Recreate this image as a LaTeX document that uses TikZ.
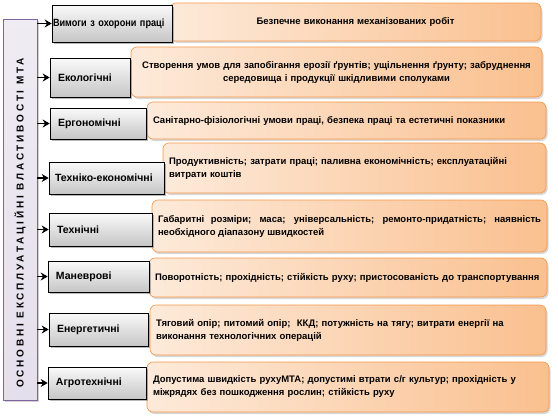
\documentclass[tikz,border=0pt]{standalone}
\usepackage{fontspec}
\setmainfont{Liberation Sans}
\newfontfamily\vuzkyi[FakeStretch=0.87]{Liberation Sans}
\usetikzlibrary{
    shadows,
    arrows.meta
}
\definecolor{pomaranch}{HTML}{F79646}
\definecolor{svitlyi}{HTML}{FDEADA}
\definecolor{temnyi}{HTML}{FAC08F}
\definecolor{fiolet}{HTML}{8064A2}
\definecolor{lavanda}{HTML}{E4DFEC}
\tikzset{
    >=Stealth,
    vlastyvist/.style={
        draw=black,
        line width=0.6pt,
        top color=gray!4,
        bottom color=gray!45,
        drop shadow={shadow xshift=2pt, shadow yshift=-2pt, fill=black!55},
        font=\bfseries\fontsize{10.5}{12}\selectfont,
        align=left,
        inner xsep=8pt,
        inner ysep=0pt
    },
    opys/.style={
        draw=pomaranch,
        line width=0.6pt,
        rounded corners=6pt,
        left color=svitlyi,
        right color=temnyi,
        drop shadow={shadow xshift=1.5pt, shadow yshift=-2pt, fill=black!30},
        font=\bfseries\fontsize{9.5}{13}\selectfont,
        align=left,
        inner xsep=6pt,
        inner ysep=0pt
    },
    strilka/.style={
        ->,
        line width=1.8pt,
        >={Stealth[length=7pt, width=8pt]}
    }
}

\begin{document}
\begin{tikzpicture}[
    x=1pt,
    y=-1pt
]
    \useasboundingbox (0,0) rectangle (558,416);

    % Головна ознака
    \node[draw=fiolet, line width=0.6pt, top color=lavanda!60, bottom color=lavanda,
          drop shadow={shadow xshift=2pt, shadow yshift=-2pt, fill=black!35},
          minimum width=34pt, minimum height=381pt] (prop) at (20,209.5) {};
    \node[rotate=90, inner sep=0pt,
          font=\bfseries\fontsize{10}{11}\selectfont\addfontfeature{LetterSpace=28}]
          (napys) at (20,223) {ОСНОВНІ ЕКСПЛУАТАЦІЙНІ ВЛАСТИВОСТІ МТА};

    % Пояснення
    \node[opys, align=center, text width=359pt, minimum height=38pt] (o1) at (355.5,22)
        {Безпечне виконання механізованих робіт};
    \node[opys, align=center, text width=399pt, minimum height=50pt] (o2) at (336.5,72)
        {Створення умов для запобігання ерозії ґрунтів; ущільнення ґрунту; забруднення\\
         середовища і продукції шкідливими сполуками};
    \node[opys, text width=387pt, minimum height=37pt] (o3) at (346.5,120.5)
        {Санітарно-фізіологічні умови праці, безпека праці та естетичні показники};
    \node[opys, text width=371pt, minimum height=50pt] (o4) at (354.5,168)
        {Продуктивність; затрати праці; паливна економічність; експлуатаційні\\
         витрати коштів};
    \node[opys, align=justify, text width=383pt, minimum height=52pt] (o5) at (349.5,226)
        {Габаритні розміри; маса; універсальність; ремонто-придатність; наявність\linebreak
         необхідного діапазону швидкостей};
    \node[opys, text width=386pt, minimum height=39pt] (o6) at (348,277.5)
        {Поворотність; прохідність; стійкість руху; пристосованість до транспортування};
    \node[opys, text width=384pt, minimum height=50pt] (o7) at (348,330)
        {Тяговий опір; питомий опір; \ ККД; потужність на тягу; витрати енергії на\\
         виконання технологічних операцій};
    \node[opys, text width=390pt, minimum height=50pt] (o8) at (348,387)
        {Допустима швидкість рухуМТА; допустимі втрати с/г культур; прохідність у\\
         міжрядях без пошкодження рослин; стійкість руху};

    % Властивості
    \node[vlastyvist, inner xsep=1pt, text width=118pt, minimum height=37pt] (v1) at (112,23.5)
        {\vuzkyi Вимоги з охорони праці};
    \node[vlastyvist, text width=64pt, minimum height=39pt] (v2) at (90,77.5)
        {Екологічні};
    \node[vlastyvist, text width=80pt, minimum height=31pt] (v3) at (98,123.5)
        {Ергономічні};
    \node[vlastyvist, inner xsep=6pt, text width=103pt, minimum height=32pt] (v4) at (106.5,178)
        {Техніко-економічні};
    \node[vlastyvist, text width=87pt, minimum height=33pt] (v5) at (100.5,229.5)
        {Технічні};
    \node[vlastyvist, text width=85pt, minimum height=31pt] (v6) at (98.5,276.5)
        {Маневрові};
    \node[vlastyvist, text width=83pt, minimum height=33pt] (v7) at (98.5,329.5)
        {Енергетичні};
    \node[vlastyvist, text width=82pt, minimum height=32pt] (v8) at (97,383)
        {Агротехнічні};

    % Стрілки
    \foreach \i in {1,...,8}
        \draw[strilka] (prop.east |- v\i.west) -- (v\i.west);

\end{tikzpicture}
\end{document}
